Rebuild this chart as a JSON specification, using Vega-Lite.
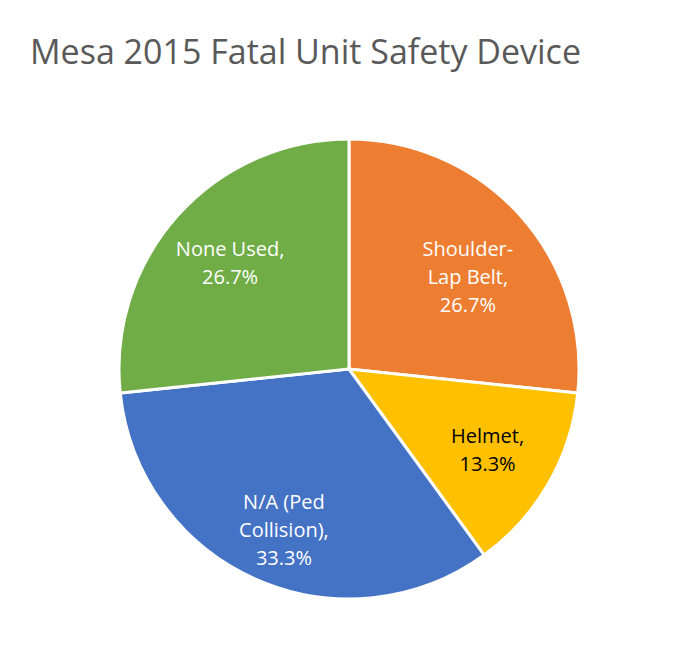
{
  "$schema": "https://vega.github.io/schema/vega-lite/v6.json",
  "width": 690,
  "height": 594,
  "autosize": {"type": "none"},
  "padding": {"left": 4, "top": 72, "right": 2, "bottom": 0},
  "title": {
    "text": "Mesa 2015 Fatal Unit Safety Device",
    "anchor": "start",
    "frame": "group",
    "orient": "top",
    "offset": -26,
    "dx": 26,
    "baseline": "alphabetic",
    "font": "Open Sans",
    "fontSize": 34,
    "fontWeight": "normal",
    "color": "#595959"
  },
  "config": {"view": {"stroke": null}},
  "data": {
    "values": [
      {"device": "Shoulder-Lap Belt", "count": 4, "order": 1, "label": "Shoulder-\nLap Belt,\n26.7%"},
      {"device": "Helmet", "count": 2, "order": 2, "label": "Helmet,\n13.3%"},
      {"device": "N/A (Ped Collision)", "count": 5, "order": 3, "label": "N/A (Ped\nCollision),\n33.3%"},
      {"device": "None Used", "count": 4, "order": 4, "label": "None Used,\n26.7%"}
    ]
  },
  "encoding": {
    "theta": {"field": "count", "type": "quantitative", "stack": true},
    "order": {"field": "order", "type": "quantitative"}
  },
  "layer": [
    {
      "mark": {"type": "arc", "radius": 230, "stroke": "white", "strokeWidth": 3},
      "encoding": {
        "color": {
          "field": "device",
          "type": "nominal",
          "scale": {
            "domain": ["Shoulder-Lap Belt", "Helmet", "N/A (Ped Collision)", "None Used"],
            "range": ["#ED7D31", "#FFC000", "#4472C4", "#70AD47"]
          },
          "legend": null
        }
      }
    },
    {
      "mark": {"type": "text", "radius": 160, "dy": -12, "font": "Open Sans", "fontSize": 20, "lineBreak": "\n", "lineHeight": 28, "align": "center", "baseline": "middle"},
      "encoding": {
        "text": {"field": "label"},
        "color": {
          "condition": {"test": "datum.device === 'Helmet'", "value": "#000000"},
          "value": "#FFFFFF"
        }
      }
    }
  ]
}
